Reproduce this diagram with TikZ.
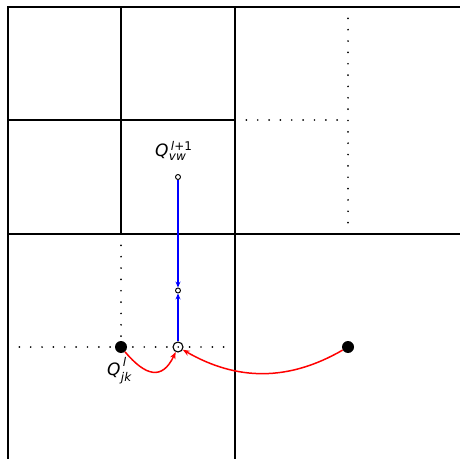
\documentclass[tikz,border=0pt]{standalone}
\usepackage{fontspec}
\setmainfont{DejaVu Sans}
\usetikzlibrary{arrows.meta}
\begin{document}
\begin{tikzpicture}[x=1pt,y=1pt,
  gridline/.style={line width=2pt},
  dots/.style={line width=1.9pt, line cap=round, dash pattern=on 0pt off 11.35pt},
  bigdot/.style={circle, fill=black, inner sep=0pt, minimum size=12pt},
  ocirc/.style={circle, draw=black, line width=1.1pt, inner sep=0pt, minimum size=10pt},
  scirc/.style={circle, draw=black, line width=0.9pt, fill=white, inner sep=0pt, minimum size=5pt},
  bluearrow/.style={blue, line width=1.2pt, -{Stealth[length=6pt,width=5pt]}},
  redarrow/.style={red, line width=1.5pt, -{Stealth[length=7pt,width=5.5pt]}},
  lab/.style={anchor=base west, inner sep=0pt, font=\fontsize{17}{17}\selectfont\itshape},
  scr/.style={anchor=base west, inner sep=0pt, font=\fontsize{12}{12}\selectfont\itshape}
]
\useasboundingbox (0,0) rectangle (460,458);
\clip (0,0) rectangle (460,458);
% thick grid
\draw[gridline] (8,-3) rectangle (462,451);
\draw[gridline] (235,-3) -- (235,451);
\draw[gridline] (8,224) -- (462,224);
\draw[gridline] (121,224) -- (121,451);
\draw[gridline] (8,338) -- (235,338);
% dotted subdivisions
\draw[dots] (348,451) -- (348,224);
\draw[dots] (235,338) -- (348,338);
\draw[dots] (121,224) -- (121,111);
\draw[dots] (8,111) -- (235,111);
% points
\node[bigdot] (qjk) at (121,111) {};
\node[ocirc] (p) at (178,111) {};
\node[scirc] (m) at (178,167.5) {};
\node[scirc] (qvw) at (178,281) {};
\node[bigdot] (far) at (348,111) {};
% connectors
\draw[bluearrow] (qvw) -- (m);
\draw[bluearrow] (p) -- (m);
\draw[redarrow] (qjk) to[out=-50,in=-115,looseness=1.6] (p);
\draw[redarrow] (far) to[out=210,in=-30] (p);
% labels
\node[lab] (lvw) at (155,301) {Q};
\node[scr] (lvwsup) at ([xshift=2pt,yshift=6.5pt]lvw.base east) {l\upshape+1};
\node[scr] (lvwsub) at ([yshift=-4pt]lvw.base east) {vw};
\node[lab] (ljk) at (107,83) {Q};
\node[scr] (ljksup) at ([xshift=2pt,yshift=9pt]ljk.base east) {l};
\node[scr] (ljksub) at ([yshift=-6pt]ljk.base east) {jk};
\end{tikzpicture}
\end{document}
